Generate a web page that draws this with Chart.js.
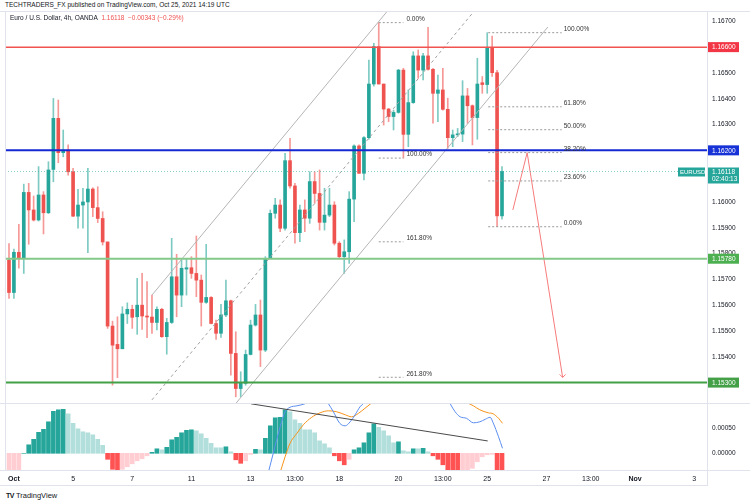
<!DOCTYPE html>
<html>
<head>
<meta charset="utf-8">
<script src="https://cdn.jsdelivr.net/npm/chart.js@4.4.0/dist/chart.umd.min.js"></script>
<style>
  body { margin: 0; background: #fff; width: 750px; height: 500px; overflow: hidden; position: relative; font-family: "Liberation Sans", Arial, sans-serif; }
  canvas { position: absolute; left: 0; }
  #priceCanvas { top: 11px; }
  #macdCanvas { top: 404px; }
  .hdr { position: absolute; white-space: nowrap; color: #131722; font-size: 6.5px; z-index: 2; }
  .logo { position: absolute; left: 6px; top: 491px; font-size: 7.5px; color: #131722; }
  .logo b { font-size: 7px; margin-right: 2px; letter-spacing: -0.5px; }
</style>
</head>
<body>
<canvas id="priceCanvas" width="750" height="393"></canvas>
<canvas id="macdCanvas" width="750" height="82"></canvas>
<div class="hdr" style="left:5px;top:1px">TECHTRADERS_FX published on TradingView.com, Oct 25, 2021 14:19 UTC</div>
<div class="hdr" style="left:10px;top:14px">Euro / U.S. Dollar, 4h, OANDA&nbsp; <span style="color:#ef5350">1.16118 &nbsp;−0.00343 (−0.29%)</span></div>
<div class="logo"><b>TV</b>TradingView</div>
<script>
// bar index axis (4h bars, index 0 = last bar of Sep 30)
var X_MIN = -0.81, X_MAX = 141.58;

var OPEN = [1.15775, 1.15649, 1.15805, 1.15783, 1.16037, 1.15969, 1.15930, 1.16027, 1.15958, 1.16126,
  1.16324, 1.16191, 1.16201, 1.16117, 1.15945, 1.15988, 1.16000, 1.16050, 1.15978, 1.15936,
  1.15845, 1.15519, 1.15448, 1.15431, 1.15566, 1.15584, 1.15555, 1.15600, 1.15558, 1.15554,
  1.15533, 1.15584, 1.15478, 1.15533, 1.15710, 1.15639, 1.15740, 1.15745, 1.15723, 1.15697,
  1.15611, 1.15630, 1.15529, 1.15491, 1.15562, 1.15617, 1.15413, 1.15277, 1.15297, 1.15409,
  1.15523, 1.15562, 1.15426, 1.15781, 1.15956, 1.15988, 1.15898, 1.16160, 1.16062, 1.15881,
  1.15969, 1.15937, 1.16079, 1.16033, 1.15921, 1.15949, 1.15988, 1.15840, 1.15788, 1.15807,
  1.16011, 1.16217, 1.16111, 1.16249, 1.16457, 1.16602, 1.16457, 1.16360, 1.16331, 1.16347,
  1.16511, 1.16262, 1.16385, 1.16566, 1.16511, 1.16566, 1.16514, 1.16421, 1.16434, 1.16359,
  1.16249, 1.16260, 1.16263, 1.16411, 1.16373, 1.16327, 1.16462, 1.16455, 1.16599, 1.16501,
  1.15946];
var HIGH = [1.15839, 1.15817, 1.15913, 1.16069, 1.16072, 1.16023, 1.16137, 1.16040, 1.16156, 1.16401,
  1.16395, 1.16279, 1.16221, 1.16130, 1.16049, 1.16053, 1.16130, 1.16055, 1.16059, 1.15962,
  1.15845, 1.15538, 1.15555, 1.15594, 1.15609, 1.15600, 1.15704, 1.15723, 1.15691, 1.15639,
  1.15594, 1.15588, 1.15549, 1.15859, 1.15797, 1.15775, 1.15781, 1.15788, 1.15868, 1.15717,
  1.15836, 1.15633, 1.15542, 1.15603, 1.15697, 1.15620, 1.15497, 1.15342, 1.15426, 1.15542,
  1.15603, 1.15620, 1.15788, 1.15969, 1.16014, 1.16008, 1.16188, 1.16247, 1.16072, 1.15988,
  1.16008, 1.16117, 1.16117, 1.16124, 1.16053, 1.16053, 1.16001, 1.15846, 1.15853, 1.16040,
  1.16221, 1.16221, 1.16253, 1.16550, 1.16615, 1.16695, 1.16457, 1.16363, 1.16356, 1.16514,
  1.16518, 1.16434, 1.16582, 1.16589, 1.16576, 1.16677, 1.16518, 1.16492, 1.16518, 1.16402,
  1.16279, 1.16285, 1.16470, 1.16440, 1.16376, 1.16557, 1.16486, 1.16656, 1.16643, 1.16510,
  1.16137];
var LOW = [1.15626, 1.15626, 1.15743, 1.15723, 1.15836, 1.15926, 1.15926, 1.15876, 1.15955, 1.16078,
  1.16152, 1.16175, 1.16104, 1.15943, 1.15898, 1.15898, 1.15803, 1.15943, 1.15920, 1.15833,
  1.15510, 1.15290, 1.15319, 1.15431, 1.15529, 1.15510, 1.15487, 1.15506, 1.15474, 1.15491,
  1.15504, 1.15475, 1.15410, 1.15529, 1.15555, 1.15594, 1.15639, 1.15704, 1.15633, 1.15519,
  1.15607, 1.15527, 1.15467, 1.15475, 1.15555, 1.15329, 1.15245, 1.15245, 1.15290, 1.15407,
  1.15519, 1.15362, 1.15420, 1.15781, 1.15937, 1.15885, 1.15891, 1.16053, 1.15840, 1.15846,
  1.15885, 1.15917, 1.15995, 1.15891, 1.15891, 1.15943, 1.15833, 1.15781, 1.15723, 1.15762,
  1.15924, 1.16111, 1.16085, 1.16243, 1.16449, 1.16457, 1.16298, 1.16311, 1.16279, 1.16344,
  1.16170, 1.16214, 1.16382, 1.16479, 1.16473, 1.16511, 1.16305, 1.16311, 1.16356, 1.16208,
  1.16214, 1.16253, 1.16234, 1.16305, 1.16221, 1.16243, 1.16421, 1.16421, 1.16486, 1.15904,
  1.15933];
var CLOSE = [1.15649, 1.15805, 1.15783, 1.16037, 1.15969, 1.15930, 1.16027, 1.15958, 1.16124, 1.16324,
  1.16191, 1.16201, 1.16117, 1.15945, 1.15988, 1.16000, 1.16050, 1.15978, 1.15936, 1.15845,
  1.15519, 1.15445, 1.15431, 1.15566, 1.15584, 1.15553, 1.15600, 1.15558, 1.15554, 1.15533,
  1.15584, 1.15478, 1.15533, 1.15710, 1.15639, 1.15743, 1.15745, 1.15723, 1.15697, 1.15611,
  1.15630, 1.15529, 1.15491, 1.15562, 1.15617, 1.15413, 1.15277, 1.15297, 1.15409, 1.15523,
  1.15562, 1.15426, 1.15781, 1.15956, 1.15988, 1.15898, 1.16160, 1.16062, 1.15881, 1.15969,
  1.15937, 1.16079, 1.16033, 1.15921, 1.15949, 1.15988, 1.15840, 1.15788, 1.15807, 1.16011,
  1.16217, 1.16111, 1.16249, 1.16457, 1.16602, 1.16457, 1.16360, 1.16331, 1.16347, 1.16511,
  1.16262, 1.16385, 1.16566, 1.16511, 1.16566, 1.16514, 1.16421, 1.16434, 1.16359, 1.16249,
  1.16260, 1.16263, 1.16411, 1.16373, 1.16327, 1.16457, 1.16455, 1.16599, 1.16501, 1.15946,
  1.16118];

// MACD histogram
var HIST = [-0.00045, -0.00040, -0.00034, 0.00000, 0.00017, 0.00028, 0.00042, 0.00048, 0.00063, 0.00084,
  0.00087, 0.00088, 0.00079, 0.00060, 0.00049, 0.00043, 0.00041, 0.00037, 0.00028, 0.00016,
  -0.00012, -0.00032, -0.00037, -0.00032, -0.00027, -0.00021, -0.00015, -0.00011, -0.00005, 0.00002,
  0.00009, 0.00007, 0.00012, 0.00027, 0.00032, 0.00041, 0.00046, 0.00047, 0.00045, 0.00039,
  0.00030, 0.00020, 0.00011, 0.00011, 0.00013, 0.00003, -0.00013, -0.00020, -0.00015, -0.00002,
  0.00008, 0.00007, 0.00030, 0.00055, 0.00071, 0.00072, 0.00087, 0.00083, 0.00067, 0.00060,
  0.00047, 0.00047, 0.00041, 0.00025, 0.00019, 0.00011, -0.00005, -0.00015, -0.00023, -0.00012,
  0.00007, 0.00011, 0.00021, 0.00041, 0.00059, 0.00052, 0.00045, 0.00035, 0.00021, 0.00023,
  0.00005, 0.00003, 0.00009, 0.00009, 0.00010, 0.00003, -0.00005, -0.00012, -0.00023, -0.00036,
  -0.00042, -0.00045, -0.00044, -0.00040, -0.00030, -0.00017, -0.00007, -0.00003, -0.00002, -0.00040,
  -0.00046];

var PRICE_TICKS = [1.153, 1.154, 1.155, 1.156, 1.157, 1.158, 1.159, 1.160, 1.161, 1.162, 1.163, 1.164, 1.165, 1.166, 1.167];
var HIST_TICKS = [0, 0.0005];
var TIME_TICKS = [1, 13, 25, 37, 49, 58, 67, 79, 88, 97, 109, 118, 127, 139];
var TIME_LABELS = ['Oct', '5', '7', '11', '13', '13:00', '18', '20', '13:00', '25', '27', '13:00', 'Nov', '3'];

// horizontal levels and last price
var LEVELS = [1.166, 1.162, 1.1578, 1.153];
var LAST_PRICE = 1.16118;
var COUNTDOWN = '02:40:13';
var SYMBOL = 'EURUSD';

// fib retracement (right) and extension (left)
var FIB_R_HIGH = 1.16656, FIB_R_LOW = 1.15904;
var FIB_R_LEVELS = [1, 0.618, 0.5, 0.382, 0.236, 0];
var FIB_R_X = [97.2, 112.1];
var FIB_L_P0 = 1.16695, FIB_L_P1 = 1.16170;
var FIB_L_LEVELS = [0, 1, 1.618, 2.618];
var FIB_L_X = [75, 80];

// parallel channel
var CH_X = [29, 109.3];
var CH_UPPER = [1.15639, 1.17490];
var CH_MID = [1.15233, 1.17084];
var CH_LOWER = [1.14827, 1.16678];

// projection arrow
var ARROW_X = [102.2, 105.1, 112.3];
var ARROW_Y = [1.15969, 1.16191, 1.15320];

// lines in the lower pane
var HT_X = [49.1, 97.1];
var HT_Y = [0.00099, 0.000247];
var BLUE_X = [52.3, 53.6, 55.0, 56.0, 57.0, 58.4, 60.0, 62.0, 64.0, 64.8, 65.8, 67.1, 68.2, 69.2, 70.2, 71.2, 71.9, 74.0,
  88.0, 89.5, 90.5, 91.5, 92.8, 94.2, 95.5, 96.6, 97.6, 98.2, 99.3, 100.1];
var BLUE_Y = [-0.0005, 0, 0.00053, 0.00083, 0.00092, 0.00095, 0.00099, 0.0011, 0.0011, 0.00099, 0.00083, 0.0006, 0.00055,
  0.00063, 0.00077, 0.00093, 0.001, 0.0013, 0.0013, 0.00099, 0.00083, 0.00073, 0.0007, 0.00061, 0.00063, 0.00068,
  0.00072, 0.00061, 0.00033, 0.0001];
var ORANGE_X = [54.8, 56.0, 57.0, 58.4, 59.7, 61.4, 63.1, 64.8, 66.5, 68.2, 69.5, 70.9, 72.2, 73.6, 76.0, 90.0,
  93.2, 94.2, 95.5, 97.2, 98.2, 99.3, 100.1];
var ORANGE_Y = [-0.00045, -0.00007, 0.0002, 0.0004, 0.00057, 0.00072, 0.00081, 0.00085, 0.00083, 0.00077, 0.00073,
  0.0008, 0.0009, 0.00101, 0.0012, 0.0012, 0.001, 0.00095, 0.00087, 0.00081, 0.00079, 0.0007, 0.0006];

var UP = '#26a69a', DOWN = '#ef5350';
var FONT = '"Liberation Sans", Arial, sans-serif';
Chart.defaults.font.family = FONT;
Chart.defaults.color = '#131722';

function seg(xs, ys, color, extra) {
    return Object.assign({
        type: 'line',
        data: xs.map(function (x, i) { return { x: x, y: ys[i] }; }),
        borderColor: color,
        borderWidth: 1,
        pointRadius: 0,
        fill: false,
        tension: 0,
        clip: 0,
        order: 1
    }, extra || {});
}

function fixY(scale) {
    scale.width = 43;
    scale.paddingTop = 0;
    scale.paddingBottom = 0;
}

var frame = {
    id: 'frame',
    afterDraw: function (chart) {
        var ctx = chart.ctx, a = chart.chartArea;
        ctx.save();
        ctx.strokeStyle = '#e0e3eb';
        ctx.lineWidth = 1;
        ctx.beginPath();
        ctx.moveTo(a.right + 0.5, 0); ctx.lineTo(a.right + 0.5, chart.height);
        ctx.moveTo(a.left + 0.5, 0); ctx.lineTo(a.left + 0.5, a.bottom);
        ctx.moveTo(0, a.bottom - 0.5); ctx.lineTo(chart.width, a.bottom - 0.5);
        if (chart.canvas.id === 'macdCanvas') {
            ctx.moveTo(0, chart.height - 0.5); ctx.lineTo(a.right, chart.height - 0.5);
        } else {
            ctx.moveTo(0, 0.5); ctx.lineTo(chart.width, 0.5);
        }
        ctx.stroke();
        ctx.restore();
    }
};

// fib labels, arrow head and price tags
var marks = {
    id: 'marks',
    afterDatasetsDraw: function (chart) {
        var ctx = chart.ctx, x = chart.scales.x, y = chart.scales.y;
        ctx.save();
        ctx.font = '6.5px ' + FONT;
        ctx.fillStyle = '#333';
        ctx.textBaseline = 'middle';
        FIB_R_LEVELS.forEach(function (l) {
            var p = FIB_R_LOW + l * (FIB_R_HIGH - FIB_R_LOW);
            ctx.fillText((l * 100).toFixed(2) + '%', x.getPixelForValue(FIB_R_X[1]) + 2, y.getPixelForValue(p) - 3.5);
        });
        FIB_L_LEVELS.forEach(function (l) {
            var p = FIB_L_P0 - l * (FIB_L_P0 - FIB_L_P1);
            ctx.fillText((l * 100).toFixed(2) + '%', x.getPixelForValue(FIB_L_X[1]) + 3, y.getPixelForValue(p) - 3.5);
        });
        // arrow head
        var n = ARROW_X.length - 1;
        var ex = x.getPixelForValue(ARROW_X[n]), ey = y.getPixelForValue(ARROW_Y[n]);
        ctx.strokeStyle = '#f77b7b';
        ctx.lineWidth = 1;
        ctx.beginPath();
        ctx.moveTo(ex - 3, ey - 3); ctx.lineTo(ex, ey); ctx.lineTo(ex + 3, ey - 3);
        ctx.stroke();
        ctx.restore();
    },
    afterDraw: function (chart) {
        var ctx = chart.ctx, a = chart.chartArea, y = chart.scales.y;
        var tagColors = ['#f23645', '#1732d6', '#4caf50', '#43a047'];
        ctx.save();
        ctx.font = '6.5px ' + FONT;
        ctx.textBaseline = 'middle';
        LEVELS.forEach(function (p, i) {
            var py = y.getPixelForValue(p);
            ctx.fillStyle = tagColors[i];
            ctx.fillRect(a.right + 1, py - 5, 31, 10);
            ctx.fillStyle = '#fff';
            ctx.fillText(p.toFixed(5), a.right + 5, py + 0.5);
        });
        var py = y.getPixelForValue(LAST_PRICE);
        ctx.fillStyle = UP;
        ctx.fillRect(a.right + 1, py - 4, 31, 16);
        ctx.fillRect(a.right - 29, py - 4, 27, 9);
        ctx.fillStyle = '#fff';
        ctx.fillText(LAST_PRICE.toFixed(5), a.right + 5, py + 0.5);
        ctx.fillText(COUNTDOWN, a.right + 5, py + 7.5);
        ctx.font = '6px ' + FONT;
        ctx.fillText(SYMBOL, a.right - 27, py + 0.5);
        ctx.restore();
    }
};

function priceChart() {
    var idx = OPEN.map(function (_, i) { return i; });
    var colors = idx.map(function (i) { return CLOSE[i] >= OPEN[i] ? UP : DOWN; });
    var wickColors = idx.map(function (i) { return CLOSE[i] >= OPEN[i] ? 'rgba(38,166,154,0.6)' : 'rgba(239,83,80,0.6)'; });

    var datasets = [];
    LEVELS.forEach(function (p, i) {
        var c = ['#f05350', '#1429d4', '#85c98a', '#43a047'][i];
        datasets.push(seg([X_MIN, X_MAX], [p, p], c, { borderWidth: i === 0 ? 1.5 : 2 }));
    });
    datasets.push(seg([X_MIN, X_MAX], [LAST_PRICE, LAST_PRICE], 'rgba(38,166,154,0.55)', { borderDash: [1, 2] }));
    FIB_R_LEVELS.forEach(function (l) {
        var p = FIB_R_LOW + l * (FIB_R_HIGH - FIB_R_LOW);
        datasets.push(seg(FIB_R_X, [p, p], '#9a9a9a', { borderDash: [2, 2] }));
    });
    FIB_L_LEVELS.forEach(function (l) {
        var p = FIB_L_P0 - l * (FIB_L_P0 - FIB_L_P1);
        datasets.push(seg(FIB_L_X, [p, p], '#9a9a9a', { borderDash: [2, 2] }));
    });
    datasets.push(seg(CH_X, CH_UPPER, '#b5b5b5'));
    datasets.push(seg(CH_X, CH_MID, '#a0a0a0', { borderDash: [3, 3] }));
    datasets.push(seg(CH_X, CH_LOWER, '#b5b5b5'));
    datasets.push(seg(ARROW_X, ARROW_Y, '#f77b7b'));

    datasets.push({
        type: 'bar',
        data: idx.map(function (i) { return { x: i, y: [LOW[i], HIGH[i]] }; }),
        backgroundColor: wickColors,
        barThickness: 1,
        grouped: false,
        clip: 0,
        order: 3
    });
    datasets.push({
        type: 'bar',
        data: idx.map(function (i) { return { x: i, y: [OPEN[i], CLOSE[i]] }; }),
        backgroundColor: colors,
        barThickness: 3,
        minBarLength: 1,
        grouped: false,
        clip: 0,
        order: 2
    });

    new Chart(document.getElementById('priceCanvas').getContext('2d'), {
        type: 'bar',
        data: { datasets: datasets },
        options: {
            responsive: false,
            animation: false,
            layout: { padding: { left: 5, right: 0, top: 0, bottom: 0 } },
            plugins: { legend: { display: false }, tooltip: { enabled: false } },
            scales: {
                x: { type: 'linear', min: X_MIN, max: X_MAX, offset: false, display: false },
                y: {
                    position: 'right',
                    min: 1.15217,
                    max: 1.16740,
                    afterFit: fixY,
                    afterBuildTicks: function (s) { s.ticks = PRICE_TICKS.map(function (v) { return { value: v }; }); },
                    grid: { display: false, drawTicks: false },
                    border: { display: false },
                    ticks: { padding: 5, font: { size: 6.5 }, callback: function (v) { return v.toFixed(5); } }
                }
            }
        },
        plugins: [frame, marks]
    });
}

function macdChart() {
    var colors = HIST.map(function (v, i) {
        var prev = i ? HIST[i - 1] : -Infinity;
        if (v >= 0) return v > prev ? '#26a69a' : '#b2dfdb';
        return v > prev ? '#ffcdd2' : '#ff5252';
    });
    new Chart(document.getElementById('macdCanvas').getContext('2d'), {
        type: 'bar',
        data: {
            datasets: [
                seg(HT_X, HT_Y, '#4a4a4a'),
                seg(BLUE_X, BLUE_Y, '#5b8def', { cubicInterpolationMode: 'monotone' }),
                seg(ORANGE_X, ORANGE_Y, '#f7931a', { cubicInterpolationMode: 'monotone' }),
                {
                    type: 'bar',
                    data: HIST.map(function (v, i) { return { x: i, y: v }; }),
                    backgroundColor: colors,
                    barThickness: 4,
                    grouped: false,
                    clip: 0,
                    order: 2
                }
            ]
        },
        options: {
            responsive: false,
            animation: false,
            layout: { padding: { left: 5, right: 0, top: 0, bottom: 0 } },
            plugins: { legend: { display: false }, tooltip: { enabled: false } },
            scales: {
                x: {
                    type: 'linear',
                    min: X_MIN,
                    max: X_MAX,
                    offset: false,
                    afterFit: function (s) { s.height = 15; s.paddingLeft = 0; s.paddingRight = 0; },
                    afterBuildTicks: function (s) { s.ticks = TIME_TICKS.map(function (v) { return { value: v }; }); },
                    grid: { display: false, drawTicks: false },
                    border: { display: false },
                    ticks: {
                        autoSkip: false,
                        maxRotation: 0,
                        padding: 4,
                        font: function (c) {
                            var t = TIME_LABELS[c.index];
                            return { size: 7, weight: (t === 'Oct' || t === 'Nov') ? 'bold' : 'normal' };
                        },
                        callback: function (v, i) { return TIME_LABELS[i]; }
                    }
                },
                y: {
                    position: 'right',
                    min: -0.000354,
                    max: 0.000986,
                    afterFit: fixY,
                    afterBuildTicks: function (s) { s.ticks = HIST_TICKS.map(function (v) { return { value: v }; }); },
                    grid: { display: false, drawTicks: false },
                    border: { display: false },
                    ticks: { padding: 5, font: { size: 6.5 }, callback: function (v) { return v.toFixed(5); } }
                }
            }
        },
        plugins: [frame]
    });
}

priceChart();
macdChart();
</script>
</body>
</html>
